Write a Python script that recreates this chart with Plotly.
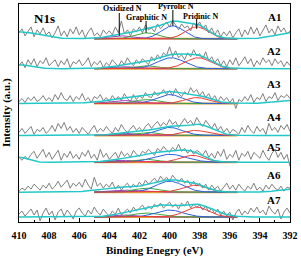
import numpy as np
import plotly.graph_objects as go

# ---------------- data ----------------
samples = ["A1", "A2", "A3", "A4", "A5", "A6", "A7"]
offsets = [184, 154, 119, 87, 60, 30, 5]          # stacking offsets (a.u.)
energy = np.round(np.arange(410.0, 391.99, -0.2), 2)  # binding energy grid (eV)

A1_counts = [6, 10, 3, 8, 12, 2, 9, 5, 11, 4,
             7, 1, 6, 13, 3, 8, 2, 10, 5, 12,
             4, 9, 1, 7, 11, 3, 6, 2, 9, 5,
             8, 4, 12, 6, 18, 5, 9, 3, 10, 7,
             12, 6, 14, 9, 11, 7, 15, 10, 13, 17,
             12, 18, 14, 9, 15, 11, 13, 8, 16, 12,
             17, 10, 14, 6, 11, 4, 9, 2, 7, 3,
             8, 1, 6, 10, 2, 9, 4, 12, 5, 11,
             3, 8, 14, 6, 10, 4, 13, 7, 11, 5, 8]
A2_counts = [3, 7, 1, 9, 4, 10, 2, 8, 5, 11,
             3, 6, 9, 2, 8, 4, 10, 1, 7, 5,
             9, 3, 6, 11, 2, 7, 4, 8, 1, 6,
             3, 9, 5, 2, 8, 4, 11, 6, 3, 9,
             5, 10, 7, 4, 12, 8, 14, 10, 16, 13,
             22, 12, 18, 11, 14, 9, 16, 12, 19, 13,
             15, 10, 17, 8, 12, 6, 10, 3, 8, 2,
             9, 4, 11, 3, 7, 12, 5, 10, 2, 8,
             4, 11, 6, 9, 3, 10, 5, 8, 2, 7, 3]
A3_counts = [2, 5, 1, 6, 3, 7, 2, 4, 8, 3,
             6, 2, 9, 4, 11, 5, 3, 8, 2, 7,
             4, 10, 3, 6, 1, 7, 5, 9, 3, 6,
             2, 8, 4, 7, 3, 10, 5, 2, 9, 4,
             8, 5, 11, 7, 6, 12, 8, 10, 14, 9,
             13, 8, 15, 10, 7, 12, 9, 16, 11, 14,
             8, 12, 6, 10, 4, 8, 2, 7, 3, 6,
             1, 5, -5, 4, 2, 7, 3, 9, 1, 6,
             4, 10, 2, 7, 5, 11, 3, 8, 6, 9, 5]
A4_counts = [3, 7, 2, 5, 9, 1, 6, 4, 8, 2,
             5, 10, 4, 12, 7, 13, 5, 9, 3, 7,
             2, 8, 5, 1, 6, 10, 3, 7, 4, 9,
             5, 2, 8, 4, 11, 6, 3, 7, 10, 5,
             8, 4, 9, 12, 7, 11, 14, 9, 13, 10,
             16, 11, 14, 8, 13, 17, 12, 15, 10, 18,
             13, 9, 15, 11, 7, 12, 5, 9, 3, 7,
             2, 6, 4, 1, 8, 3, 10, 5, 2, 9,
             4, 7, 1, 12, 5, 8, 3, 10, 6, 11, 4]
A5_counts = [5, 2, 6, 3, 8, 11, 4, 9, 13, 5,
             10, 3, 7, 12, 2, 9, 5, 11, 4, 8,
             3, 10, 6, 12, 4, 8, 2, 13, 5, 9,
             3, 7, 10, 4, 11, 6, 9, 5, 12, 8,
             6, 11, 9, 13, 10, 7, 14, 11, 16, 12,
             10, 15, 12, 18, 11, 14, 9, 13, 8, 12,
             10, 7, 12, 5, 9, 4, 11, 6, 13, 3,
             8, 5, 12, 2, 9, 6, 11, 3, 10, 7,
             4, 12, 6, 2, 9, 13, 5, 10, 3, 8, -4]
A6_counts = [1, 4, 2, 6, 3, 8, 5, 2, 7, 4,
             9, 3, 6, 11, 5, 8, 12, 4, 9, 6,
             10, 5, 13, 7, 3, 15, 6, 9, 4, 8,
             5, 10, 3, 7, 2, 6, 9, 4, 8, 5,
             10, 6, 12, 8, 11, 14, 10, 16, 12, 15,
             11, 17, 13, 10, 14, 9, 12, 7, 11, 6,
             9, 4, 8, 2, 7, 3, 6, 1, 5, 9,
             3, 7, 2, 8, 4, 1, 6, 3, 9, 2,
             5, 1, 7, 3, 8, 4, 2, 6, 1, 5, 4]
A7_counts = [3, 6, 1, 5, 8, 2, 7, -4, 4, 9,
             2, 6, -3, 5, 8, 1, 7, 3, -2, 6,
             9, 4, 1, 7, 3, 10, 5, 2, 8, 4,
             1, 6, 3, 9, 2, 5, 8, 4, 10, 6,
             9, 12, 7, 11, 8, 13, 10, 14, 9, 12,
             15, 10, 13, 8, 14, 11, 16, 9, 13, 10,
             12, 7, 11, 5, 9, 3, 8, 2, 6, 1,
             5, -3, 4, 8, 2, 6, 3, 9, 5, 10,
             4, 7, 2, 11, 6, 3, 8, -2, 5, 9, 4]
counts = [A1_counts, A2_counts, A3_counts, A4_counts, A5_counts, A6_counts, A7_counts]

# fitted components: (center eV, height, sigma) for Oxidized, Graphitic, Pyrrolic, Pyridinic
component_names = ["Oxidized N", "Graphitic N", "Pyrrolic N", "Pridinic N"]
fits = [
    [(403.2, 3, 0.8), (401.5, 6, 0.8), (399.8, 13, 0.75), (398.2, 12, 0.75)],
    [(403.0, 2, 0.8), (401.6, 3, 0.8), (399.9, 11, 0.9), (398.1, 11, 0.85)],
    [(403.0, 3, 0.9), (401.5, 4, 0.8), (400.0, 9, 0.85), (398.2, 6, 0.8)],
    [(403.0, 2, 0.8), (401.5, 3, 0.8), (400.0, 8, 0.85), (398.3, 5, 0.8)],
    [(403.2, 2, 0.8), (401.6, 3, 0.8), (400.0, 8, 1.1), (398.5, 7, 0.8)],
    [(403.0, 2, 0.8), (401.5, 4, 0.8), (400.0, 11, 0.9), (398.3, 7, 0.8)],
    [(403.0, 2, 0.8), (401.5, 4, 0.9), (400.0, 7, 0.9), (398.2, 10, 0.8)],
]
# background terms of the envelope: (center eV, height, sigma)
backgrounds = [
    [(410.0, 7, 1.3), (392.0, 6, 1.0), (400.5, 3, 2.2)],
    [(410.0, 4, 0.8), (400.5, 2, 2.5)],
    [(403.5, 2, 1.5), (399.0, 2, 2.0), (392.0, 3, 1.0)],
    [(397.8, 6, 0.85)],
    [(410.0, 5, 0.6), (401.0, 2, 2.0)],
    [(403.8, 3, 1.2), (392.0, 3, 0.8)],
    [(401.0, 4, 1.5), (397.0, 3, 0.9)],
]
fit_range = (405.0, 395.5)

# label annotations (first spectrum)
marker_energy = [403.34, 401.56, 399.78, 398.2]
marker_y0 = [187, 190, 197, 194]
marker_y1 = [210, 202, 213, 204]
label_energy = [403.14, 401.5, 399.58, 397.94]
label_y = [214, 205, 216, 206]
sample_label_x = 393.03
sample_label_y = [205.5, 172, 138.5, 105, 75.5, 47, 21.7]

# ---------------- styling ----------------
comp_colors = ["#A040C0", "#3FA83F", "#2D5FE0", "#F03A3A"]
env_color = "#22C8C8"
base_color = "#E0A535"
data_color = "#7F7F7F"
FONT = "Liberation Serif"


def gauss(x, c, h, s):
    return h * np.exp(-((x - c) ** 2) / (2 * s ** 2))


fig = go.Figure()
x_fit = np.linspace(fit_range[0], fit_range[1], 191)
x_full = np.linspace(410, 392, 361)

for k, name in enumerate(samples):
    off = offsets[k]
    fig.add_trace(go.Scatter(x=energy, y=np.array(counts[k]) + off, mode="lines",
                             line=dict(color=data_color, width=1), showlegend=False))
    fig.add_trace(go.Scatter(x=x_fit, y=np.full_like(x_fit, off), mode="lines",
                             line=dict(color=base_color, width=2), showlegend=False))
    for j, (c, h, s) in enumerate(fits[k]):
        fig.add_trace(go.Scatter(x=x_fit, y=gauss(x_fit, c, h, s) + off, mode="lines",
                                 line=dict(color=comp_colors[j], width=1), showlegend=False))
    env = np.full_like(x_full, float(off))
    for (c, h, s) in fits[k] + backgrounds[k]:
        env = env + gauss(x_full, c, h, s)
    fig.add_trace(go.Scatter(x=x_full, y=env, mode="lines",
                             line=dict(color=env_color, width=1.5), showlegend=False))
    fig.add_annotation(x=sample_label_x, y=sample_label_y[k], text="<b>%s</b>" % name, showarrow=False,
                       font=dict(family=FONT, size=11, color="black"), xanchor="center", yanchor="middle")

for j, nm in enumerate(component_names):
    fig.add_shape(type="line", x0=marker_energy[j], x1=marker_energy[j], y0=marker_y0[j], y1=marker_y1[j],
                  xref="x", yref="y", line=dict(color="black", width=1))
    fig.add_annotation(x=label_energy[j], y=label_y[j], text="<b>%s</b>" % nm, showarrow=False,
                       font=dict(family=FONT, size=8, color="black"), xanchor="center", yanchor="middle")

fig.add_annotation(x=408.3, y=204.5, text="<b>N1s</b>", showarrow=False,
                   font=dict(family=FONT, size=13, color="black"), xanchor="center", yanchor="middle")

fig.add_annotation(xref="paper", yref="paper", x=-0.0476, y=0.5, text="<b>Intensity (a.u.)</b>",
                   textangle=-90, showarrow=False, font=dict(family=FONT, size=11, color="black"),
                   xanchor="center", yanchor="middle")
fig.add_annotation(xref="paper", yref="paper", x=0.5, y=-0.132, text="<b>Binding Enegry (eV)</b>",
                   showarrow=False, font=dict(family=FONT, size=11, color="black"),
                   xanchor="center", yanchor="middle")

fig.update_layout(
    width=301, height=259,
    margin=dict(l=19, r=9, t=3, b=37),
    paper_bgcolor="white", plot_bgcolor="white",
    xaxis=dict(range=[410, 392], tickvals=[410, 408, 406, 404, 402, 400, 398, 396, 394, 392],
               ticktext=["<b>%d</b>" % v for v in [410, 408, 406, 404, 402, 400, 398, 396, 394, 392]],
               ticks="inside", ticklen=4, tickwidth=1, tickcolor="black", ticklabelstandoff=4,
               minor=dict(ticks="inside", ticklen=2, dtick=1, tickcolor="black"),
               showline=True, linecolor="black", linewidth=1, mirror=True,
               showgrid=False, zeroline=False,
               tickfont=dict(family=FONT, size=10, color="black")),
    yaxis=dict(range=[0, 219], showticklabels=False, ticks="", showline=True, linecolor="black",
               linewidth=1, mirror=True, showgrid=False, zeroline=False),
)

fig.write_html("out.html", config={"displayModeBar": False},
               post_script="document.body.style.margin='0px';document.body.style.overflow='hidden';")
